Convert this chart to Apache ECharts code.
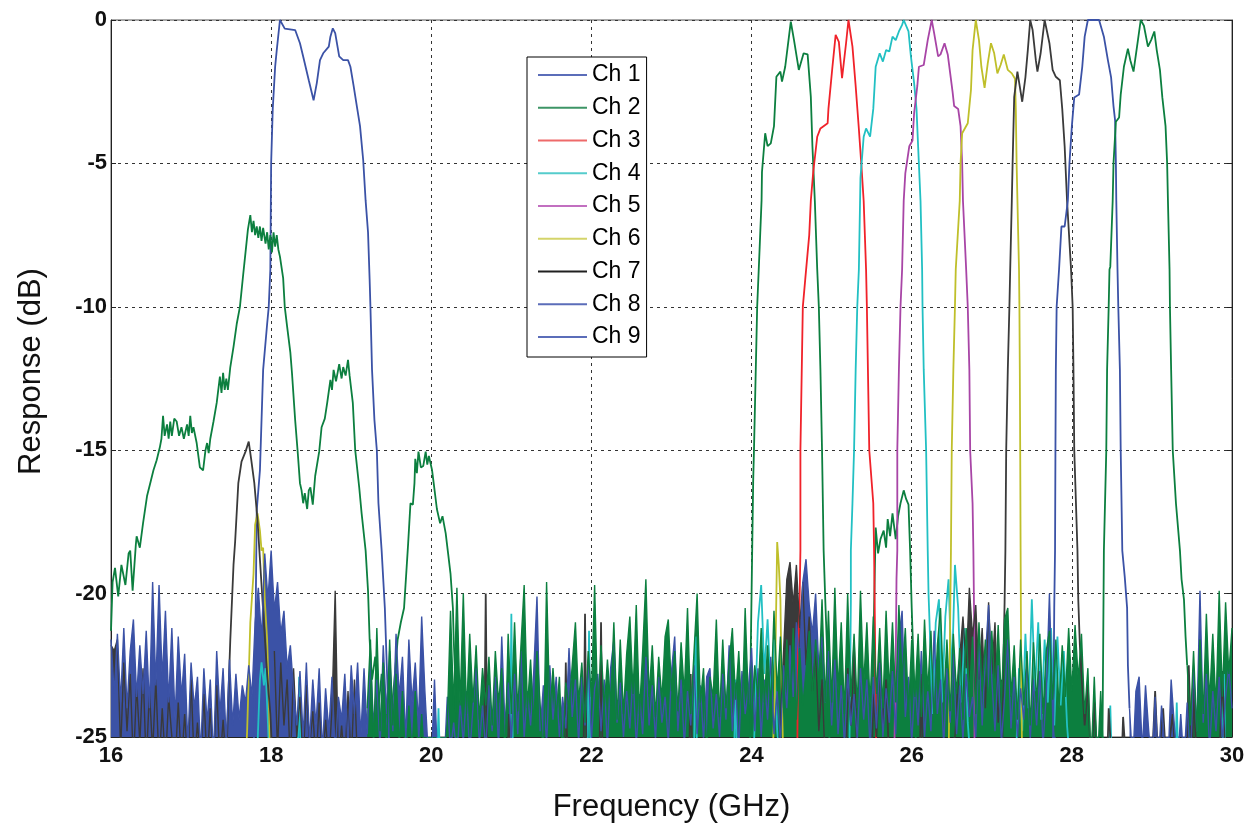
<!DOCTYPE html>
<html>
<head>
<meta charset="utf-8">
<title>Channel response</title>
<script src="https://cdn.jsdelivr.net/npm/echarts@6/dist/echarts.min.js"></script>
<style>
  html, body { margin: 0; padding: 0; background: #fff; }
  #chart { width: 1251px; height: 832px; }
</style>
</head>
<body>
<div id="chart"></div>
<script>
// frequency in GHz, response in dB
var channelNames = ['Ch 1', 'Ch 2', 'Ch 3', 'Ch 4', 'Ch 5', 'Ch 6', 'Ch 7', 'Ch 8', 'Ch 9'];
var xTicks = [16, 18, 20, 22, 24, 26, 28, 30];
var yTicks = [-25, -20, -15, -10, -5, 0];

// noise floor samples are one value every FLOOR_STEP GHz from the segment start
var FLOOR_STEP = 0.04;

var ch1Trace = [[17.78,-26],[17.80,-22.5],[17.82,-17.1],[17.86,-15.7],[17.90,-12.2],[17.95,-10.6],[17.97,-10],[17.99,-8.7],
  [18.00,-5.0],[18.02,-3.1],[18.05,-1.63],[18.07,-1.05],[18.11,0],[18.17,-0.3],[18.30,-0.35],[18.36,-0.81],[18.40,-1.27],
  [18.47,-2.1],[18.53,-2.8],[18.57,-2.2],[18.61,-1.4],[18.65,-1.16],[18.72,-0.93],[18.74,-0.58],[18.77,-0.29],[18.80,-0.46],
  [18.85,-1.27],[18.90,-1.4],[18.96,-1.4],[18.99,-1.63],[19.03,-2.3],[19.07,-3.0],[19.11,-3.7],[19.15,-4.9],[19.18,-6.3],
  [19.21,-7.4],[19.23,-9.05],[19.24,-10],[19.26,-12.2],[19.29,-13.95],[19.32,-15],[19.34,-16.85],[19.38,-18.5],[19.40,-19.5],
  [19.42,-20.5],[19.45,-23],[19.48,-26]];

var ch2Trace = [[16.00,-21.3],[16.02,-19.6],[16.05,-19.1],[16.09,-20.1],[16.13,-19.0],[16.18,-19.7],[16.22,-18.6],[16.24,-18.5],
  [16.27,-19.9],[16.31,-18.3],[16.32,-18.0],[16.36,-18.4],[16.40,-17.55],[16.45,-16.6],[16.49,-16.15],[16.53,-15.7],[16.57,-15.35],
  [16.61,-14.9],[16.63,-14.6],[16.65,-13.8],[16.67,-14.5],[16.70,-14.1],[16.72,-14.6],[16.74,-14.0],[16.76,-14.5],[16.79,-13.9],
  [16.82,-14.0],[16.85,-14.5],[16.88,-14.2],[16.91,-14.6],[16.95,-14.1],[16.97,-14.5],[16.99,-13.8],[17.01,-14.4],[17.03,-14.2],
  [17.07,-14.75],[17.11,-15.6],[17.15,-15.7],[17.18,-15.0],[17.20,-14.75],[17.22,-15.1],[17.24,-14.6],[17.28,-14.0],[17.32,-13.35],
  [17.36,-12.43],[17.38,-13.0],[17.40,-12.3],[17.42,-12.9],[17.44,-12.5],[17.46,-12.9],[17.49,-12.1],[17.53,-11.4],[17.57,-10.6],
  [17.61,-10],[17.65,-8.9],[17.68,-8.1],[17.71,-7.3],[17.74,-6.8],[17.76,-7.4],[17.78,-7.0],[17.80,-7.5],[17.82,-7.2],[17.84,-7.6],
  [17.86,-7.2],[17.88,-7.7],[17.90,-7.25],[17.93,-7.8],[17.95,-7.4],[17.97,-8.0],[17.99,-7.5],[18.01,-8.1],[18.03,-7.4],[18.05,-7.9],
  [18.07,-7.5],[18.09,-8.0],[18.11,-8.25],[18.15,-9.0],[18.17,-10],[18.20,-10.7],[18.24,-11.6],[18.26,-12.3],[18.30,-13.95],
  [18.33,-15],[18.36,-16.15],[18.38,-16.4],[18.40,-16.85],[18.42,-16.5],[18.45,-17.05],[18.47,-16.4],[18.49,-16.3],[18.52,-16.9],
  [18.55,-15.9],[18.60,-15.05],[18.63,-14.2],[18.67,-13.9],[18.70,-13.35],[18.74,-12.55],[18.76,-12.9],[18.78,-12.2],[18.81,-12.6],
  [18.85,-12.0],[18.88,-12.5],[18.90,-12.1],[18.93,-12.4],[18.96,-11.85],[18.98,-12.4],[19.02,-13.35],[19.05,-15],[19.10,-16.3],
  [19.13,-17.2],[19.18,-18.5],[19.21,-19.9],[19.23,-21.6],[19.26,-23.0],[19.30,-22.2],[19.34,-24.0],[19.38,-22.8],[19.42,-24.5],
  [19.46,-23.4],[19.50,-24.2],[19.54,-23.0],[19.58,-21.6],[19.62,-21.0],[19.66,-20.5],[19.71,-18.3],[19.74,-16.85],[19.77,-16.9],
  [19.79,-16.15],[19.80,-15.3],[19.82,-15.8],[19.84,-15.05],[19.87,-15.6],[19.90,-15.55],[19.93,-15.05],[19.95,-15.5],[19.97,-15.2],
  [20.01,-15.7],[20.03,-16.15],[20.07,-17.05],[20.11,-17.55],[20.14,-17.3],[20.18,-17.9],[20.21,-18.6],[20.24,-19.3],[20.27,-20.5],
  [20.28,-21.6],[20.30,-23.0],[20.32,-26],
  [23.98,-26],[23.99,-22.0],[24.00,-20.0],[24.02,-16.1],[24.03,-15],[24.07,-10],[24.10,-8.0],[24.125,-6.28],[24.13,-5.3],
  [24.17,-3.95],[24.20,-4.4],[24.24,-4.3],[24.28,-3.7],[24.31,-1.98],[24.36,-1.8],[24.38,-2.15],[24.42,-1.63],[24.49,-0.06],
  [24.53,-0.7],[24.59,-1.74],[24.65,-1.16],[24.70,-1.2],[24.74,-2.68],[24.76,-4.4],[24.79,-6.3],[24.82,-8.7],[24.84,-10],
  [24.86,-12.2],[24.88,-15],[24.90,-18.5],[24.92,-20.2],[24.95,-22.5],[24.98,-26],
  [25.50,-26],[25.53,-20.5],[25.55,-17.7],[25.58,-18.6],[25.61,-18.1],[25.65,-17.8],[25.68,-18.4],[25.70,-17.4],[25.73,-18.0],
  [25.76,-17.2],[25.80,-18.1],[25.83,-17.3],[25.86,-16.85],[25.90,-16.4],[25.93,-16.7],[25.96,-16.9],[25.98,-18.5],[26.00,-20.5],
  [26.03,-23],[26.06,-26]];

var ch3Trace = [[24.57,-26],[24.58,-22.0],[24.60,-20.2],[24.61,-18.5],[24.61,-15],[24.64,-10],[24.67,-9.05],[24.72,-7.5],
  [24.74,-6.3],[24.77,-5.3],[24.82,-4.07],[24.86,-3.78],[24.95,-3.6],[24.96,-3.1],[25.01,-1.63],[25.05,-0.52],[25.09,-0.76],
  [25.13,-2.03],[25.18,-0.81],[25.21,0],[25.26,-0.93],[25.30,-2.3],[25.34,-3.8],[25.37,-5],[25.40,-6.3],[25.43,-8.7],[25.44,-10],
  [25.47,-15],[25.52,-16.85],[25.53,-18.5],[25.54,-21.0],[25.55,-24.0],[25.56,-26]];

var ch4Trace = [[17.82,-26],[17.86,-23.0],[17.88,-22.4],[17.91,-23.2],[17.93,-22.6],[17.96,-24.5],[17.98,-26],
  [18.33,-26],[18.35,-22.9],[18.37,-26],[20.07,-26],[20.09,-24.0],[20.11,-26],[20.98,-26],[21.00,-20.7],[21.02,-26],
  [21.95,-26],[21.97,-21.3],[21.99,-26],[23.28,-26],[23.30,-21.5],[23.32,-26],[23.78,-26],[23.80,-23.0],[23.82,-26],
  [24.02,-26],[24.04,-24.5],[24.08,-21.0],[24.12,-19.7],[24.16,-22.8],[24.20,-20.9],[24.24,-23.5],[24.28,-21.6],[24.32,-24.8],[24.36,-26],
  [25.22,-26],[25.24,-20.3],[25.24,-18.5],[25.26,-16.85],[25.28,-15],[25.30,-12.2],[25.32,-10],[25.34,-8.7],[25.36,-5.5],
  [25.40,-4.07],[25.43,-3.78],[25.48,-4.07],[25.52,-3.1],[25.55,-1.63],[25.60,-1.16],[25.64,-1.45],[25.68,-1.05],[25.72,-1.1],
  [25.76,-0.58],[25.80,-0.7],[25.84,-0.4],[25.88,-0.17],[25.90,0],[25.96,-0.4],[25.99,-1.27],[26.03,-2.2],[26.06,-3.1],
  [26.08,-4.4],[26.11,-6.3],[26.13,-8.7],[26.135,-10],[26.15,-12.2],[26.18,-15],[26.20,-18.5],[26.21,-20.0],[26.22,-20.8],
  [26.26,-24.2],[26.30,-21.0],[26.34,-20.2],[26.38,-23.8],[26.42,-20.8],[26.46,-19.5],[26.50,-23.0],[26.54,-19.0],[26.58,-20.5],
  [26.62,-23.8],[26.66,-21.2],[26.70,-24.5],[26.74,-26],
  [27.30,-26],[27.34,-22.6],[27.38,-24.8],[27.42,-21.4],[27.46,-24.0],[27.50,-20.2],[27.54,-23.4],[27.58,-21.0],[27.62,-24.4],
  [27.66,-21.6],[27.70,-23.8],[27.74,-21.2],[27.78,-24.6],[27.82,-21.5],[27.86,-23.9],[27.90,-22.0],[27.94,-24.6],[27.98,-26],
  [28.46,-26],[28.48,-23.9],[28.50,-26],[29.29,-26],[29.31,-23.8],[29.33,-26],[29.88,-26],[29.90,-22.8],[29.92,-26]];

var ch5Trace = [[25.78,-26],[25.80,-22.5],[25.81,-19.5],[25.82,-18.5],[25.82,-15],[25.84,-12.2],[25.86,-10],[25.88,-8.7],
  [25.90,-6.3],[25.92,-5.35],[25.97,-4.4],[26.01,-4.2],[26.03,-3.25],[26.07,-2.3],[26.09,-1.63],[26.15,-1.57],[26.20,-0.7],
  [26.25,0],[26.28,-0.46],[26.33,-1.27],[26.36,-1.2],[26.41,-0.81],[26.45,-1.2],[26.51,-2.5],[26.53,-3.0],[26.58,-3.1],
  [26.61,-3.7],[26.63,-5],[26.64,-6.3],[26.68,-8.7],[26.70,-10],[26.72,-12.2],[26.73,-15],[26.76,-16.85],[26.77,-18.5],
  [26.78,-21],[26.785,-26]];

var ch6Trace = [[17.68,-26],[17.70,-24.8],[17.74,-21.0],[17.78,-19.3],[17.80,-17.6],[17.83,-17.2],[17.86,-17.8],[17.88,-18.5],
  [17.90,-18.4],[17.92,-20.2],[17.95,-21.6],[17.97,-23.5],[17.99,-26],
  [24.26,-26],[24.29,-23.5],[24.31,-20.0],[24.32,-18.2],[24.34,-19.0],[24.36,-20.2],[24.38,-24],[24.40,-26],
  [26.46,-26],[26.48,-21.0],[26.49,-18.5],[26.50,-15],[26.52,-12.2],[26.54,-10],[26.55,-8.7],[26.60,-6.3],[26.61,-5],
  [26.63,-3.95],[26.70,-3.6],[26.74,-2.44],[26.76,-1.05],[26.80,0],[26.84,-0.7],[26.87,-1.63],[26.91,-2.37],[26.95,-1.5],
  [26.99,-0.81],[27.03,-1.16],[27.07,-1.86],[27.11,-1.57],[27.15,-1.2],[27.20,-1.74],[27.25,-1.86],[27.29,-2.05],[27.30,-3.1],
  [27.31,-5],[27.33,-7.5],[27.34,-8.7],[27.345,-10],[27.35,-12.2],[27.355,-15],[27.36,-18.5],[27.365,-21.5],[27.37,-23.5],[27.38,-26]];

var ch7Trace = [[17.44,-26],[17.46,-24.0],[17.49,-21.6],[17.53,-19.0],[17.55,-18.2],[17.59,-16.15],[17.63,-15.4],[17.68,-15.05],
  [17.72,-14.7],[17.75,-15.3],[17.79,-16.15],[17.83,-17.45],[17.86,-18.8],[17.90,-20.6],[17.95,-22.8],[17.99,-24.2],[18.02,-26],
  [20.66,-26],[20.68,-20.0],[20.70,-26],[20.95,-26],[20.97,-24.2],[20.99,-26],[21.66,-26],[21.68,-22.4],[21.70,-26],
  [21.90,-26],[21.92,-20.7],[21.94,-26],[22.10,-26],[22.12,-21.0],[22.14,-26],[23.22,-26],[23.24,-22.8],[23.26,-26],
  [25.18,-26],[25.20,-22.6],[25.24,-24.6],[25.28,-21.8],[25.32,-26],[25.50,-26],[25.52,-23.5],[25.56,-25.0],[25.60,-22.4],
  [25.64,-24.8],[25.68,-23.0],[25.72,-26],[26.10,-26],[26.12,-22.8],[26.14,-26],
  [27.13,-26],[27.14,-23],[27.16,-20.3],[27.17,-18.5],[27.18,-15],[27.20,-12.2],[27.22,-10],[27.23,-8.7],[27.25,-6.3],[27.26,-5],
  [27.28,-2.68],[27.32,-1.8],[27.38,-2.85],[27.42,-2.0],[27.45,-1.05],[27.48,0],[27.51,-0.35],[27.55,-1.4],[27.57,-1.8],
  [27.61,-1.16],[27.66,0],[27.72,-0.81],[27.76,-1.74],[27.80,-1.98],[27.85,-2.1],[27.88,-3.1],[27.91,-4.4],[27.94,-6.3],
  [27.99,-8.7],[28.01,-10],[28.02,-12.2],[28.03,-15],[28.07,-18.5],[28.08,-20.2],[28.10,-21.8],
  [28.12,-22.8],[28.16,-24.6],[28.20,-23.2],[28.24,-26],[28.28,-23.8],[28.32,-26],[28.44,-26],[28.46,-24.0],[28.50,-26],
  [28.62,-26],[28.64,-24.3],[28.68,-26],[29.00,-26],[29.04,-23.4],[29.08,-26],[29.14,-24.0],[29.18,-26],[29.26,-24.2],
  [29.30,-26],[29.44,-26],[29.46,-22.5],[29.50,-26],[29.52,-23.3],[29.56,-26],[29.84,-26],[29.88,-22.7],[29.92,-26]];

var ch7Floor = [
  [16.00, [-21.8,-22.0,-21.6,-25.5,-22.4,-24.8,-22.8,-26.0,-23.2,-25.2,
           -22.6,-26.0,-23.4,-25.5,-23.0,-26.0,-24.0,-26.0,-23.6,-25.0,
           -26.0,-23.8,-26.0,-24.2,-26.0,-23.0,-26.0,-24.5,-26.0,-23.5,
           -26.0,-24.0,-26.0,-23.2,-26.0,-24.4,-26.0]],
  [18.04, [-22.0,-25.5,-22.4,-24.6,-23.0,-26.0,-22.6,-25.0,-23.6,-26.0,
           -23.2,-25.4,-24.1,-26.0,-23.8,-26.0,-24.4,-26.0,-24.0,-19.9,
           -26.0,-24.6,-26.0,-23.4,-26.0,-23.0,-26.0]],
  [24.32, [-26.0,-24.5,-22.0,-19.5,-18.9,-20.4,-19.0,-21.2,-19.6,-22.5,-20.8,-23.4,-22.0,-24.8,-23.0,-26.0]],
  [26.52, [-26.0,-24.0,-22.2,-20.8,-22.6,-19.8,-21.5,-20.4,-23.0,-21.2,-24.0,-20.3,-22.8,-21.0,-24.5,-23.0]]
];

var ch8Trace = [[27.76,-26],[27.77,-24],[27.78,-20.5],[27.79,-18.5],[27.795,-15],[27.80,-12.2],[27.81,-10],[27.84,-8.7],[27.87,-7.2],
  [27.91,-7.2],[27.95,-6.3],[27.97,-5],[28.00,-3.7],[28.03,-2.7],[28.09,-2.6],[28.13,-1.63],[28.16,-0.58],[28.20,0],[28.34,0],
  [28.40,-0.58],[28.45,-1.4],[28.49,-2.0],[28.52,-3.0],[28.54,-3.5],[28.55,-5],[28.555,-6.3],[28.57,-8.7],[28.58,-10],
  [28.60,-12.2],[28.61,-15],[28.63,-18.5],[28.66,-19.4],[28.69,-20.5],[28.70,-22.5],[28.72,-24.0]];

var ch8Floor = [
  [16.00, [-21.6,-23.5,-21.4,-23.8,-21.2,-24.0,-22.0,-20.9,-23.6,-21.8,
           -23.5,-21.3,-24.0,-19.6,-23.2,-19.7,-23.0,-20.6,-23.8,-21.2,
           -24.4,-21.5,-23.6,-22.1,-25.3,-22.4,-24.0,-22.9,-25.6,-22.6,
           -24.5,-23.0,-25.8,-22.0,-24.2,-22.6,-25.2,-22.3,-24.6,-22.8,
           -24.4,-23.2,-23.8,-22.5,-23.6,-21.0,-19.8,-21.6,-18.6,-20.2,
           -18.5,-20.6,-19.6,-21.4,-20.6,-22.6,-21.8,-23.4,-24.6,-22.7,
           -25.0,-22.4,-25.2,-23.0,-24.6,-22.6,-25.5,-23.3,-24.8,-22.9,
           -25.6,-23.6,-24.4,-22.8,-25.3,-22.5,-24.2,-22.4,-25.0,-22.6,
           -24.9,-22.3,-24.6,-23.0,-25.4,-21.8,-24.2,-22.0,-24.8,-21.4,
           -23.6,-22.2,-25.1,-21.6,-23.8,-22.4,-24.6,-20.8,-23.4,-25.5,
           -26.0,-23.0,-26.0,-26.0,-26.0,-23.6,-25.5,-24.5,-25.8,-23.8,
           -25.2,-23.4,-25.6,-24.0,-22.6,-25.3,-23.9,-25.5,-23.2,-24.8,
           -22.9,-25.4,-21.5,-24.6,-23.1,-25.2,-22.8,-24.9,-22.0,-25.0,
           -23.4,-24.6,-22.7,-20.1,-24.8,-23.2,-25.3,-22.5,-24.4,-22.9,
           -25.0,-23.6,-24.7,-21.9,-24.3,-23.0,-25.2,-22.9,-24.6,-22.4,
           -25.1,-23.3,-22.8,-24.8,-23.0,-25.4,-22.6,-21.6,-24.5,-23.1,
           -25.0,-23.4,-24.7,-22.8,-25.3,-23.5,-24.9,-22.2,-24.6,-23.2,
           -25.1,-22.9,-24.5,-23.6,-25.2,-22.7,-21.5,-24.8,-23.0,-25.3,
           -23.4,-24.6,-22.5,-24.9,-23.2,-25.1,-22.9,-22.6,-24.7,-23.5,
           -25.0,-22.8,-24.4,-21.8,-24.8,-23.1,-25.4,-22.7,-24.2,-23.3,
           -21.9,-24.8,-22.6,-25.0,-23.0,-24.4,-22.2,-24.9,-23.4,-25.2,
           -22.5,-24.0,-21.8,-23.6,-21.0,-22.4,-19.6,-18.8,-20.4,-21.4,
           -20.0,-22.6,-21.5,-23.8,-22.0,-24.6,-22.3,-24.9,-23.2,-25.3,
           -22.8,-24.6,-23.5,-25.1,-22.6,-24.4,-23.0,-25.4,-22.9,-24.7,
           -22.4,-25.0,-23.3,-24.5,-22.7,-24.9,-21.5,-20.6,-24.3,-22.9,
           -25.2,-23.1,-24.6,-22.0,-25.0,-23.4,-24.8,-21.3,-24.2,-23.0,
           -25.3,-22.6,-24.5,-22.1,-24.9,-23.2,-25.1,-22.8,-24.3,-23.6,
           -25.0,-21.8,-24.6,-22.2,-20.4,-23.0,-24.8,-22.5,-25.2,-23.6,
           -21.6,-24.7,-22.9,-25.0,-23.3,-24.4,-22.4,-25.1,-23.0,-24.6,
           -22.7,-25.3,-23.5,-20.0,-24.2,-26.0]],
  [28.72, [-24.0,-26.0,-23.4,-22.9,-25.5,-23.2,-24.8,-26.0,-23.6,-26.0,
           -23.9,-25.4,-26.0,-23.0,-24.6,-26.0,-24.2,-26.0,-23.8,-26.0,
           -22.6,-24.8,-19.9,-24.5,-22.8,-25.5,-23.4,-24.8,-22.9,-25.2,
           -23.6,-22.6,-24.0]]
];

var ch9Trace = [[28.38,-26],[28.40,-18.5],[28.43,-15],[28.44,-12.2],[28.46,-10],[28.47,-8.7],[28.48,-8.6],[28.51,-6.3],
  [28.52,-5],[28.55,-3.55],[28.59,-3.4],[28.61,-2.6],[28.65,-1.63],[28.70,-1.0],[28.73,-1.4],[28.77,-1.8],[28.82,-0.81],
  [28.86,0],[28.90,-0.2],[28.95,-0.93],[28.99,-0.7],[29.03,-0.4],[29.06,-1.05],[29.10,-1.74],[29.13,-2.7],[29.17,-3.7],
  [29.19,-5],[29.20,-6.3],[29.22,-8.7],[29.225,-10],[29.24,-12.2],[29.26,-15],[29.30,-16.85],[29.35,-18.5],[29.37,-19.5],
  [29.40,-20.2],[29.42,-21.5],[29.44,-22.5]];

var ch9Floor = [
  [19.20, [-24.0,-21.6,-25.4,-21.2,-24.8,-22.4,-25.6,-21.6,-24.6,-22.8,
           -25.3,-23.4,-26.0,-23.9,-25.5,-23.4,-26.0,-24.2,-26.0,-26.0,
           -26.0,-26.0,-26.0,-26.0,-26.0,-24.5,-20.6,-24.0,-19.8,-23.9,
           -20.0,-24.2,-21.4,-23.8,-21.8,-24.4,-22.6,-23.9,-22.2,-24.6,
           -22.0,-23.8,-22.6,-25.8,-21.4,-24.2,-21.0,-24.1,-21.8,-19.7,
           -24.0,-22.3,-24.6,-22.0,-23.9,-25.8,-19.6,-24.2,-22.6,-24.3,
           -22.9,-25.8,-23.1,-24.0,-22.5,-21.0,-23.8,-22.4,-24.5,-22.0,
           -23.6,-19.7,-24.3,-21.8,-24.0,-22.3,-23.9,-21.0,-24.4,-21.6,
           -24.2,-22.1,-20.8,-23.5,-20.4,-24.2,-22.0,-19.5,-23.6,-21.8,
           -24.3,-22.2,-23.7,-21.5,-20.9,-23.4,-22.0,-24.1,-21.7,-23.5,
           -20.5,-24.2,-22.1,-20.0,-23.8,-22.6,-25.6,-22.9,-23.6,-20.9,
           -24.3,-21.6,-24.0,-22.4,-21.2,-23.7,-22.0,-24.4,-20.5,-23.8,
           -24.2,-22.5,-23.6,-21.2,-23.8,-21.8,-24.0,-20.6,-23.4,-21.5,
           -24.0,-21.6,-23.8,-21.2,-24.4,-21.9,-23.9,-22.7,-21.3,-23.5,
           -21.6,-23.2,-20.2,-23.8,-20.6,-23.8,-19.8,-23.4,-21.0,-24.2,
           -20.0,-23.6,-21.4,-24.0,-19.9,-23.2,-21.0,-23.9,-20.8,-23.5,
           -21.2,-24.0,-20.6,-23.4,-21.0,-23.8,-20.4,-23.0,-21.2,-24.2,
           -21.6,-23.6,-21.4,-24.3,-20.9,-23.4,-21.3,-24.5,-21.8,-20.5,
           -23.7,-21.6,-24.1,-21.4,-23.5,-21.9,-24.4,-21.2,-23.6,-21.5,
           -24.2,-21.0,-23.4,-21.6,-24.0,-21.3,-23.5,-21.1,-23.8,-20.9,
           -20.5,-23.6,-21.8,-24.4,-21.6,-23.9,-22.0,-24.6,-21.7,-23.8,
           -21.4,-24.2,-22.0,-21.3,-23.7,-21.6,-24.0,-21.8,-23.6,-21.2,
           -23.4,-21.1,-23.0,-21.4,-24.2,-22.6,-26.0,-22.9,-26.0,-23.4,-26.0]],
  [29.44, [-22.5,-24.6,-22.0,-24.8,-21.6,-24.2,-20.7,-23.8,-21.4,-24.0,-19.9,-23.6,-20.3,-22.8,-21.2]]
];

var traces = [ch1Trace, ch2Trace, ch3Trace, ch4Trace, ch5Trace, ch6Trace, ch7Trace, ch8Trace, ch9Trace];
var floors = [null, null, null, null, null, null, ch7Floor, ch8Floor, ch9Floor];

var lineColors = ['#3b52a6', '#0c7f3f', '#f0222a', '#22c0c3', '#a845a6', '#bfbf2a', '#3a3a3a', '#3b52a6', '#0c7f3f'];
var legendColors = ['#5b6db9', '#3d9566', '#ee6a6a', '#55cccc', '#c26fc0', '#d4d46a', '#202020', '#5b6db9', '#5b6db9'];

// floor segments joined with a gap marker so separate stretches do not connect
function floorPoints(floor) {
  var pts = [];
  floor.forEach(function (seg) {
    if (pts.length) pts.push([seg[0], '-']);
    seg[1].forEach(function (v, i) {
      pts.push([Math.round((seg[0] + i * FLOOR_STEP) * 100) / 100, v]);
    });
  });
  return pts;
}

var series = [];
channelNames.forEach(function (n, i) {
  if (floors[i]) {
    series.push({
      name: n, type: 'line', data: floorPoints(floors[i]),
      symbol: 'none', clip: true, color: lineColors[i],
      lineStyle: { width: 1.4, color: lineColors[i] },
      areaStyle: { color: lineColors[i], opacity: 1, origin: 'start' }
    });
  }
  series.push({
    name: n, type: 'line', data: traces[i],
    symbol: 'none', clip: true, color: lineColors[i],
    lineStyle: { width: 1.8, color: lineColors[i] }
  });
});

var font = '"Liberation Sans", Arial, sans-serif';
var myChart = echarts.init(document.getElementById('chart'));
var option = {
  animation: false,
  backgroundColor: '#fff',
  grid: { left: 111, right: 19, top: 20, bottom: 95, show: true, borderColor: '#555', borderWidth: 1 },
  legend: {
    orient: 'vertical',
    left: 527, top: 57,
    padding: [6, 6, 8, 11],
    itemGap: 8.75,
    itemWidth: 49, itemHeight: 2,
    icon: 'rect',
    backgroundColor: '#fff',
    borderColor: '#000', borderWidth: 1,
    textStyle: { fontFamily: font, fontSize: 23, color: '#000', lineHeight: 24 },
    data: channelNames.map(function (n, i) {
      return { name: n, itemStyle: { color: legendColors[i] } };
    })
  },
  xAxis: {
    type: 'value',
    min: 16, max: 30, interval: 2,
    name: 'Frequency (GHz)', nameLocation: 'middle', nameGap: 55,
    nameTextStyle: { fontFamily: font, fontSize: 31, color: '#111' },
    axisLine: { show: true, onZero: false, lineStyle: { color: '#222' } },
    axisTick: { show: true, inside: true, length: 5, lineStyle: { color: '#222' } },
    axisLabel: { fontFamily: font, fontSize: 22, fontWeight: 'bold', color: '#111', margin: 8,
      formatter: function (v) { return xTicks.indexOf(v) >= 0 ? String(v) : ''; } },
    splitLine: { show: true, lineStyle: { color: '#333', type: [3, 4], width: 1 } }
  },
  yAxis: [{
    type: 'value',
    min: -25, max: 0, interval: 5,
    name: 'Response (dB)', nameLocation: 'middle', nameGap: 64,
    nameTextStyle: { fontFamily: font, fontSize: 31, color: '#111', padding: [0, 0, 0, 14] },
    axisLine: { show: true, lineStyle: { color: '#222' } },
    axisTick: { show: true, inside: true, length: 5, lineStyle: { color: '#222' } },
    axisLabel: { fontFamily: font, fontSize: 22, fontWeight: 'bold', color: '#111', margin: 4,
      formatter: function (v) { return yTicks.indexOf(v) >= 0 ? String(v) : ''; } },
    splitLine: { show: true, lineStyle: { color: '#333', type: [3, 4], width: 1 } }
  }, {
    type: 'value', position: 'right',
    min: -25, max: 0, interval: 5,
    axisLine: { show: true, lineStyle: { color: '#222' } },
    axisTick: { show: true, inside: true, length: 5, lineStyle: { color: '#222' } },
    axisLabel: { show: false },
    splitLine: { show: false }
  }],
  series: series
};
myChart.setOption(option);

window.addEventListener('resize', function () {
  if (myChart != null) myChart.resize();
});
</script>
</body>
</html>
